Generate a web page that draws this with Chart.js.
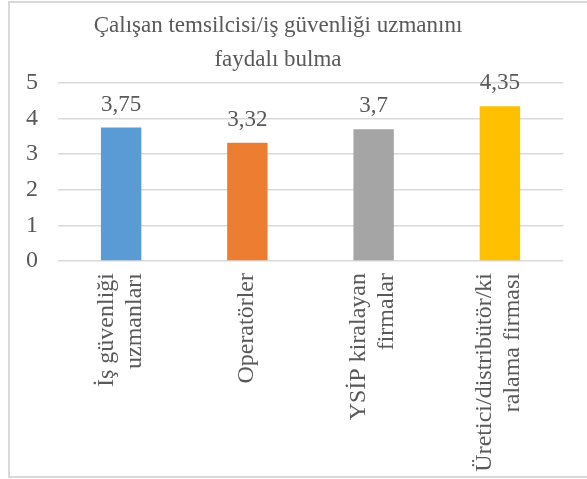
<!DOCTYPE html>
<html>
<head>
<meta charset="utf-8">
<script src="https://cdn.jsdelivr.net/npm/chart.js@4.4.0/dist/chart.umd.min.js"></script>
<style>
  html, body { margin: 0; padding: 0; background: #fff; overflow: hidden; }
  #frame { position: absolute; left: 8px; top: 1px; width: 640px; height: 473px; border: 2px solid #d9d9d9; }
  #wrap { position: absolute; left: 0; top: 0; width: 587px; height: 479px; }
</style>
</head>
<body>
<div id="frame"></div>
<div id="wrap"><canvas id="chart" width="587" height="479"></canvas></div>
<script>
// Chart data
const titleLines = ['Çalışan temsilcisi/iş güvenliği uzmanını', 'faydalı bulma'];
const categories = [
    ['İş güvenliği', 'uzmanları'],
    ['Operatörler'],
    ['YSİP kiralayan', 'firmalar'],
    ['Üretici/distribütör/ki', 'ralama firması']
];
const values = [3.75, 3.32, 3.7, 4.35];
const barColors = ['#5b9bd5', '#ed7d31', '#a5a5a5', '#ffc000'];
const yTicks = [0, 1, 2, 3, 4, 5];

const textColor = '#595959';
const fontFamily = '"Liberation Serif", "Times New Roman", serif';

// Title drawn over the plot, centred like the original
const titlePlugin = {
    id: 'chartTitle',
    afterDraw(chart) {
        const ctx = chart.ctx;
        ctx.save();
        ctx.font = '23px ' + fontFamily;
        ctx.fillStyle = textColor;
        ctx.textAlign = 'center';
        ctx.textBaseline = 'alphabetic';
        titleLines.forEach((line, i) => ctx.fillText(line, 278, 32 + i * 34));
        ctx.restore();
    }
};

// Value labels above each bar (comma decimal)
const valueLabels = {
    id: 'valueLabels',
    afterDatasetsDraw(chart) {
        const ctx = chart.ctx;
        const meta = chart.getDatasetMeta(0);
        ctx.save();
        ctx.font = '23px ' + fontFamily;
        ctx.fillStyle = textColor;
        ctx.textAlign = 'center';
        ctx.textBaseline = 'middle';
        meta.data.forEach((bar, i) => {
            ctx.fillText(String(values[i]).replace('.', ','), bar.x, bar.y - 23);
        });
        ctx.restore();
    }
};

// Rotated category labels, lines centred on each bar
const categoryLabels = {
    id: 'categoryLabels',
    afterDraw(chart) {
        const ctx = chart.ctx;
        const xs = chart.scales.x;
        const lineGap = 28;
        ctx.save();
        ctx.font = '24px ' + fontFamily;
        ctx.fillStyle = textColor;
        ctx.textAlign = 'right';
        ctx.textBaseline = 'alphabetic';
        categories.forEach((lines, i) => {
            const px = xs.getPixelForTick(i);
            lines.forEach((line, j) => {
                const off = (j - (lines.length - 1) / 2) * lineGap + 5.5;
                ctx.save();
                ctx.translate(px + off, xs.top + 12);
                ctx.rotate(-Math.PI / 2);
                ctx.fillText(line, 0, 0);
                ctx.restore();
            });
        });
        ctx.restore();
    }
};

const ctx = document.getElementById('chart').getContext('2d');
new Chart(ctx, {
    type: 'bar',
    data: {
        labels: categories,
        datasets: [{
            data: values,
            backgroundColor: barColors,
            borderWidth: 0,
            barPercentage: 0.32,
            categoryPercentage: 1
        }]
    },
    options: {
        responsive: false,
        animation: false,
        devicePixelRatio: 1,
        layout: {
            padding: { left: 0, right: 24, top: 83, bottom: 0 }
        },
        plugins: {
            legend: { display: false },
            tooltip: { enabled: false },
            title: { display: false }
        },
        scales: {
            x: {
                grid: { display: false, drawTicks: false },
                border: { display: false },
                afterFit: scale => { scale.height = 218; },
                ticks: { display: false, autoSkip: false }
            },
            y: {
                min: 0,
                max: 5,
                afterFit: scale => { scale.width = 58; },
                afterBuildTicks: scale => { scale.ticks = yTicks.map(v => ({ value: v })); },
                grid: { color: '#d9d9d9', lineWidth: 1.5, drawTicks: false },
                border: { display: false },
                ticks: {
                    padding: 20,
                    color: textColor,
                    font: { family: fontFamily, size: 24 }
                }
            }
        }
    },
    plugins: [titlePlugin, valueLabels, categoryLabels]
});
</script>
</body>
</html>
